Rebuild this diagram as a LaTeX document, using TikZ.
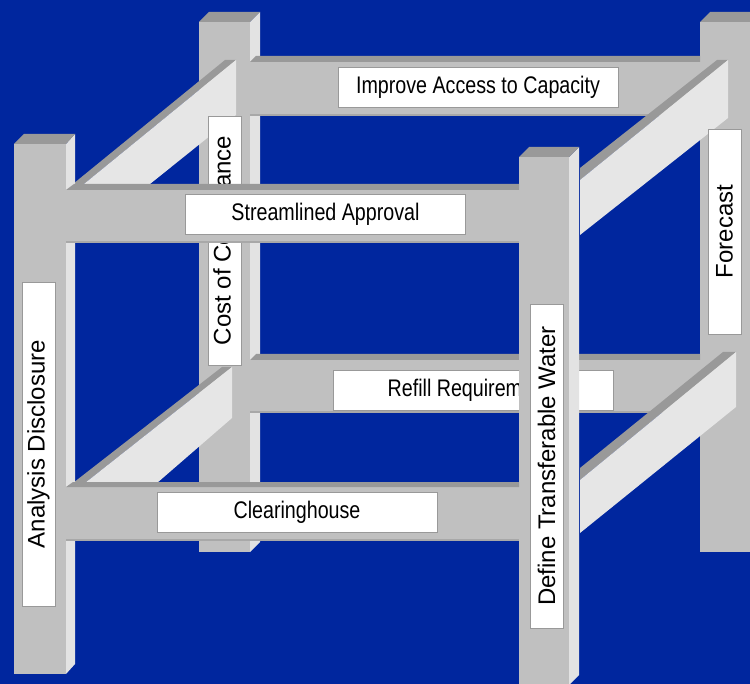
\documentclass[tikz,border=0pt]{standalone}
\usepackage{fontspec}
\setmainfont{Liberation Sans}
\newfontfamily\narrowsf[FakeStretch=0.82]{Liberation Sans}
\definecolor{bluebg}{RGB}{0,38,158}
\definecolor{postfront}{RGB}{192,192,192}
\definecolor{postside}{RGB}{227,227,227}
\definecolor{posttop}{RGB}{153,153,153}
\definecolor{braceside}{RGB}{230,230,230}
\definecolor{beamedge}{RGB}{168,168,168}

\begin{document}
\begin{tikzpicture}[x=0.5pt, y=-0.5pt,
  frontface/.style={fill=postfront},
  sideface/.style={fill=postside},
  topface/.style={fill=posttop},
  braceface/.style={fill=braceside},
  edgeline/.style={draw=beamedge, line width=1pt},
  hlabel/.style={fill=white, draw=black!40, line width=0.4pt, inner sep=0pt,
    minimum width=140pt, minimum height=20pt, font=\narrowsf\fontsize{12}{14}\selectfont},
  vlabel/.style={fill=white, draw=black!40, line width=0.4pt, inner sep=0pt,
    rotate=90, minimum height=16.5pt, font=\fontsize{12}{14}\selectfont}]

\useasboundingbox (0,0) rectangle (750,684);
\clip (0,0) rectangle (750,684);
\fill[bluebg] (0,0) rectangle (750,684);

% Back posts
\fill[frontface] (199,22) rectangle (250,552);
\fill[sideface] (250,22) -- (260,12) -- (260,542) -- (250,552) -- cycle;
\fill[topface] (199,22) -- (209,12) -- (260,12) -- (250,22) -- cycle;
\fill[frontface] (700,22) rectangle (751,552);
\fill[sideface] (751,22) -- (761,12) -- (761,542) -- (751,552) -- cycle;
\fill[topface] (700,22) -- (710,12) -- (761,12) -- (751,22) -- cycle;

% Back beams
\fill[frontface] (250,62) rectangle (700,116);
\fill[topface] (250,62) -- (256,56) -- (700,56) -- (700,62) -- cycle;
\draw[edgeline] (250,115) -- (700,115);
\fill[frontface] (250,360) rectangle (700,413);
\fill[topface] (250,360) -- (256,354) -- (700,354) -- (700,360) -- cycle;
\draw[edgeline] (250,412) -- (700,412);
\node[hlabel] (improve) at (478,87.5) {Improve Access to Capacity};
\node[hlabel] (refill) at (473.5,390) {Refill Requirements};

% Braces
\fill[topface] (73,184) -- (225,60) -- (236,60) -- (84,184) -- cycle;
\fill[braceface] (84,184) -- (236,60) -- (236,115) -- (150,184) -- cycle;
\fill[topface] (73,483) -- (222,367) -- (232,367) -- (85,483) -- cycle;
\fill[braceface] (85,483) -- (232,367) -- (232,418) -- (157,483) -- cycle;
\fill[topface] (580,168) -- (717,60) -- (728,60) -- (580,180) -- cycle;
\fill[braceface] (580,180) -- (728,60) -- (728,118) -- (580,235) -- cycle;
\fill[topface] (580,468) -- (723,352) -- (736,352) -- (580,480) -- cycle;
\fill[braceface] (580,480) -- (736,352) -- (736,407) -- (580,533) -- cycle;

% Labels on back posts
\node[vlabel, minimum width=124.5pt] (cost) at (224.5,240.5) {Cost of Compliance};
\node[vlabel, minimum width=102.5pt] (forecast) at (724.5,231.5) {Forecast};

% Front posts
\fill[frontface] (14,144) rectangle (66,674);
\fill[sideface] (66,144) -- (75,134) -- (75,664) -- (66,674) -- cycle;
\fill[topface] (14,144) -- (24,134) -- (75,134) -- (66,144) -- cycle;
\fill[frontface] (519,157) rectangle (569,690);
\fill[sideface] (569,157) -- (579,147) -- (579,675) -- (569,685) -- cycle;
\fill[topface] (519,157) -- (529,147) -- (579,147) -- (569,157) -- cycle;

% Front beams
\fill[frontface] (66,190) rectangle (519,243);
\fill[topface] (66,190) -- (74,184) -- (519,184) -- (519,190) -- cycle;
\draw[edgeline] (66,242) -- (519,242);
\fill[frontface] (66,487) rectangle (519,541);
\fill[topface] (66,487) -- (73,482) -- (519,482) -- (519,487) -- cycle;
\draw[edgeline] (66,540) -- (519,540);
\node[hlabel] (streamlined) at (325.5,214) {Streamlined Approval};
\node[hlabel] (clearing) at (297,512) {Clearinghouse};

% Labels on front posts
\node[vlabel, minimum width=162pt] (analysis) at (38.5,444) {Analysis Disclosure};
\node[vlabel, minimum width=162pt] (define) at (546.5,466) {Define Transferable Water};

\end{tikzpicture}
\end{document}
